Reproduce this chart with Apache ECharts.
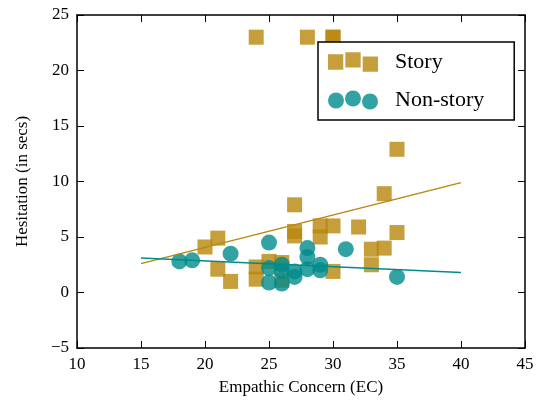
<!DOCTYPE html>
<html>
<head>
<meta charset="utf-8">
<script src="https://cdn.jsdelivr.net/npm/echarts@6/dist/echarts.min.js"></script>
<style>
  html, body { margin: 0; padding: 0; background: #fff; }
  #chart { width: 538px; height: 401px; }
</style>
</head>
<body>
<div id="chart"></div>
<script>
// story points [EC, hesitation]
var storyPoints = [
  [24, 23], [28, 23], [30, 23], [30, 23],
  [35, 12.9], [34, 8.9], [27, 7.9],
  [21, 4.9], [20, 4.1], [21, 2.1], [22, 1],
  [24, 2.3], [24, 1.2], [25, 2.8], [26, 2.7], [26, 1.1],
  [27, 5.1], [27, 5.5], [29, 6], [30, 6], [29, 5],
  [32, 5.9], [35, 5.4], [33, 3.9], [34, 4], [33, 2.5], [30, 1.9]
];
var nonStoryPoints = [
  [18, 2.8], [19, 2.9], [22, 3.5], [25, 4.5], [25, 2.2], [25, 0.9],
  [26, 2.5], [26, 0.8], [26, 1.9], [27, 1.9], [27, 1.4], [28, 4],
  [28, 3.2], [28, 2.1], [29, 2.5], [29, 2], [31, 3.9], [35, 1.4]
];
// fitted lines, endpoints
var fitX = [15, 40];
var storyFit = [2.6, 9.9];
var nonStoryFit = [3.1, 1.8];

var xTicks = { min: 10, max: 45, interval: 5 };
var yTicks = { min: -5, max: 25, interval: 5 };

var gold = '#b8860b';
var teal = '#008b8b';
var font = 'Liberation Serif';

function minus(v) { return String(v).replace('-', '\u2212'); }

var squaresIcon = 'path://M0,3h15v15h-15z M17,1h15v15h-15z M34,5h15v15h-15z';
var circlesIcon = 'path://M0,11a8,8 0 1,0 16,0a8,8 0 1,0 -16,0z M17,9a8,8 0 1,0 16,0a8,8 0 1,0 -16,0z M34,12a8,8 0 1,0 16,0a8,8 0 1,0 -16,0z';

function axisBase(extra) {
  var a = {
    type: 'value',
    axisLine: { show: true, onZero: false, lineStyle: { color: '#000', width: 1.5 } },
    axisTick: { show: true, inside: true, length: 7, lineStyle: { color: '#000', width: 1 } },
    splitLine: { show: false },
    axisLabel: { color: '#000', fontFamily: font, fontSize: 17, formatter: minus }
  };
  for (var k in extra) a[k] = extra[k];
  return a;
}

var chart = echarts.init(document.getElementById('chart'));
chart.setOption({
  backgroundColor: '#fff',
  animation: false,
  grid: { left: 77, right: 13, top: 15, bottom: 52 },
  legend: {
    orient: 'vertical',
    left: 318,
    top: 42,
    padding: [9, 30, 9, 10],
    itemGap: 16,
    itemWidth: 50,
    itemHeight: 20,
    backgroundColor: '#fff',
    borderColor: '#000',
    borderWidth: 1.5,
    textStyle: { fontFamily: font, fontSize: 22, color: '#000', padding: [0, 0, 0, 12] },
    data: [
      { name: 'Story', icon: squaresIcon, itemStyle: { color: gold, opacity: 0.8 } },
      { name: 'Non-story', icon: circlesIcon, itemStyle: { color: teal, opacity: 0.8 } }
    ]
  },
  xAxis: [
    axisBase({
      min: xTicks.min, max: xTicks.max, interval: xTicks.interval,
      name: 'Empathic Concern (EC)', nameLocation: 'middle', nameGap: 31,
      nameTextStyle: { color: '#000', fontFamily: font, fontSize: 17 }
    }),
    axisBase({
      position: 'top',
      min: xTicks.min, max: xTicks.max, interval: xTicks.interval,
      axisLabel: { show: false }
    })
  ],
  yAxis: [
    axisBase({
      min: yTicks.min, max: yTicks.max, interval: yTicks.interval,
      name: 'Hesitation (in secs)', nameLocation: 'middle', nameGap: 46,
      nameTextStyle: { color: '#000', fontFamily: font, fontSize: 17 }
    }),
    axisBase({
      position: 'right',
      min: yTicks.min, max: yTicks.max, interval: yTicks.interval,
      axisLabel: { show: false }
    })
  ],
  series: [
    {
      name: 'Story', type: 'scatter', symbol: 'rect', symbolSize: 15,
      itemStyle: { color: gold, opacity: 0.8 },
      data: storyPoints, z: 3
    },
    {
      name: 'Non-story', type: 'scatter', symbol: 'circle', symbolSize: 16,
      itemStyle: { color: teal, opacity: 0.8 },
      data: nonStoryPoints, z: 3
    },
    {
      name: 'Story fit', type: 'line', showSymbol: false, symbol: 'none',
      lineStyle: { color: gold, width: 1.5 },
      data: fitX.map(function (x, i) { return [x, storyFit[i]]; }), z: 4
    },
    {
      name: 'Non-story fit', type: 'line', showSymbol: false, symbol: 'none',
      lineStyle: { color: teal, width: 1.5 },
      data: fitX.map(function (x, i) { return [x, nonStoryFit[i]]; }), z: 4
    }
  ]
});
</script>
</body>
</html>
